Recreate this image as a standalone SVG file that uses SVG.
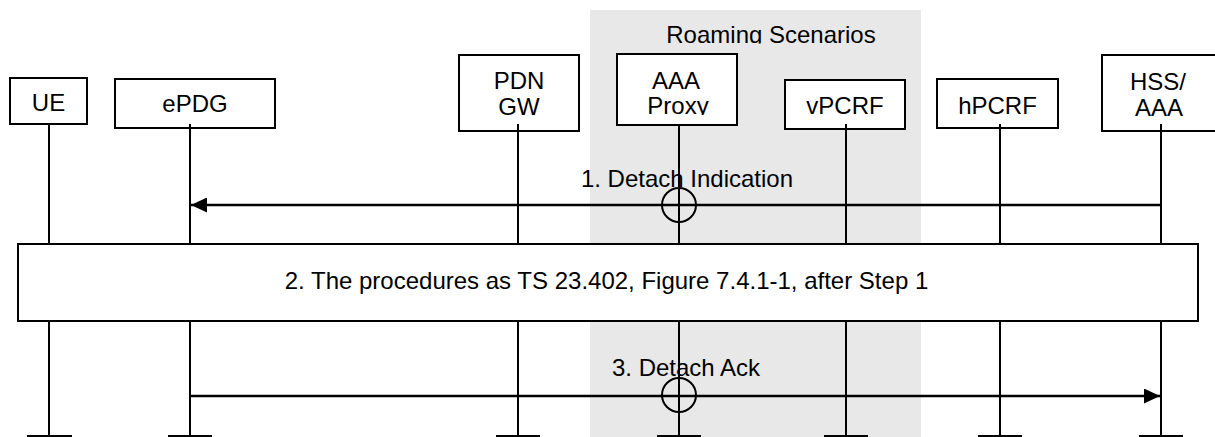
<svg xmlns="http://www.w3.org/2000/svg" width="1215" height="437" viewBox="0 0 1215 437">
<style>
  text { font-family: "Liberation Sans", Arial, sans-serif; font-size: 24px; fill: #000; }
  .box { fill: #fff; stroke: #000; stroke-width: 2; }
  .life { stroke: #000; stroke-width: 2; fill: none; }
  .msg { stroke: #000; stroke-width: 2.5; fill: none; }
  .circ { stroke: #000; stroke-width: 2; fill: none; }
</style>
<defs>
  <marker id="ah" viewBox="0 0 16 15" refX="16" refY="7.5" markerWidth="16" markerHeight="15" markerUnits="userSpaceOnUse" orient="auto">
    <path d="M0,0 L16,7.5 L0,15 Z" fill="#000"/>
  </marker>
  <clipPath id="clipRoam"><rect x="590" y="10" width="331" height="33.5"/></clipPath>
  <clipPath id="clipProxy"><rect x="618" y="55" width="118" height="60"/></clipPath>
</defs>
<rect id="roaming-area" x="590" y="10" width="331" height="427" fill="#e8e8e8"/>
<text x="771" y="42.5" text-anchor="middle" clip-path="url(#clipRoam)">Roaming Scenarios</text>

<g id="node-ue">
  <rect class="box" x="10" y="78" width="77" height="46"/>
  <text x="48.5" y="111" text-anchor="middle">UE</text>
</g>
<g id="node-epdg">
  <rect class="box" x="115" y="79" width="160" height="49"/>
  <text x="195" y="112" text-anchor="middle">ePDG</text>
</g>
<g id="node-pdngw">
  <rect class="box" x="459" y="55" width="120" height="76"/>
  <text x="519" y="88.5" text-anchor="middle">PDN</text>
  <text x="519" y="114.5" text-anchor="middle">GW</text>
</g>
<g id="node-aaaproxy">
  <rect class="box" x="617" y="54" width="120" height="71"/>
  <text x="676" y="88.5" text-anchor="middle">AAA</text>
  <text x="678" y="114" text-anchor="middle" clip-path="url(#clipProxy)">Proxy</text>
</g>
<g id="node-vpcrf">
  <rect class="box" x="785" y="80" width="120" height="49"/>
  <text x="845" y="113.5" text-anchor="middle">vPCRF</text>
</g>
<g id="node-hpcrf">
  <rect class="box" x="937" y="79" width="121" height="49"/>
  <text x="997.5" y="113.5" text-anchor="middle">hPCRF</text>
</g>
<g id="node-hssaaa">
  <rect class="box" x="1102" y="55" width="120" height="76"/>
  <text x="1158" y="89.5" text-anchor="middle">HSS/</text>
  <text x="1159" y="115.5" text-anchor="middle">AAA</text>
</g>

<g id="lifelines">
  <path class="life" d="M49,124 V436 M27,436 H72"/>
  <path class="life" d="M190,124 V436 M168,436 H212"/>
  <path class="life" d="M518,124 V436 M496,436 H540"/>
  <path class="life" d="M679,124 V436 M657,436 H701"/>
  <path class="life" d="M846,124 V436 M824,436 H868"/>
  <path class="life" d="M1000,124 V436 M978,436 H1022"/>
  <path class="life" d="M1161,124 V436 M1139,436 H1183"/>
</g>

<g id="step2">
  <rect class="box" x="18" y="244" width="1180" height="77"/>
  <text x="606.5" y="288.5" text-anchor="middle">2. The procedures as TS 23.402, Figure 7.4.1-1, after Step 1</text>
</g>

<g id="connectors">
  <g id="msg1">
    <line class="msg" x1="1161" y1="205" x2="191" y2="205" marker-end="url(#ah)"/>
    <circle class="circ" cx="679" cy="205" r="17"/>
    <text x="687" y="187" text-anchor="middle">1. Detach Indication</text>
  </g>
  <g id="msg3">
    <line class="msg" x1="190" y1="396" x2="1160" y2="396" marker-end="url(#ah)"/>
    <circle class="circ" cx="679" cy="395" r="17"/>
    <text x="686" y="376" text-anchor="middle">3. Detach Ack</text>
  </g>
</g>
</svg>
